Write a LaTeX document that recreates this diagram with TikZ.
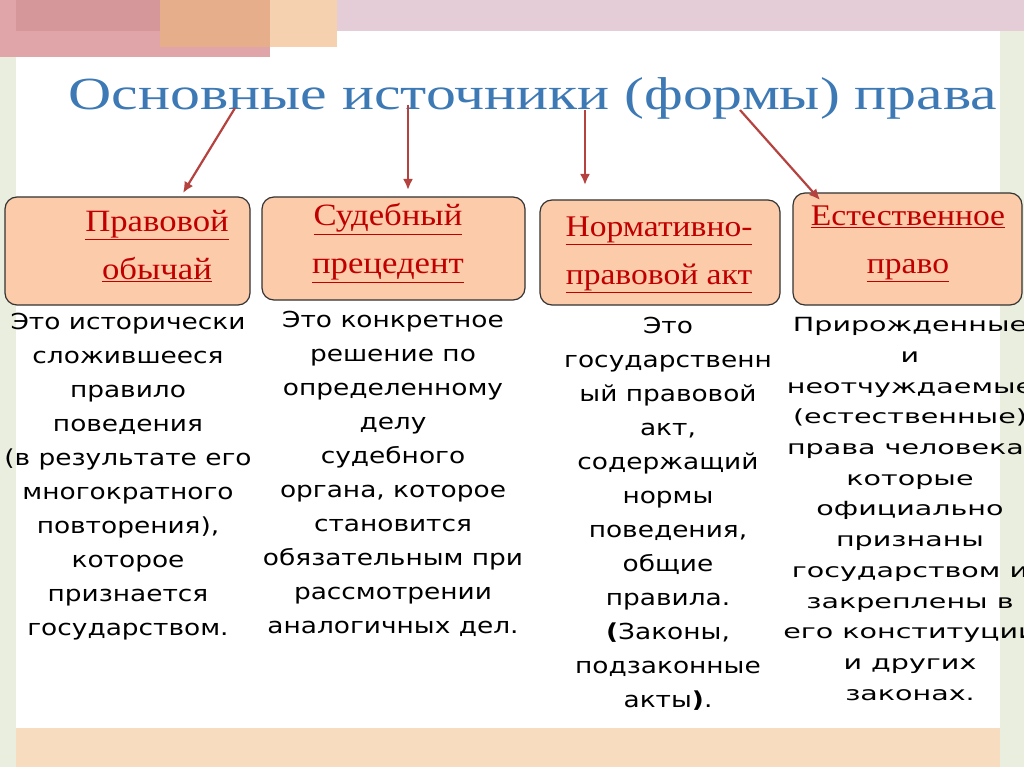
\documentclass[tikz,border=0pt]{standalone}
\usepackage{fontspec}
\usetikzlibrary{arrows.meta}
\setmainfont{Liberation Serif}
\newfontfamily\bodyf{DejaVu Sans}
\begin{document}
\begin{tikzpicture}[x=1pt,y=-1pt,
 box/.style={draw=black!80,line width=1.2pt,rounded corners=12pt,fill=boxfill},
 head/.style={text=headred,font=\fontsize{31}{48}\selectfont,align=center,xscale=1.12,transform shape},
 body/.style={font=\bodyf\fontsize{22}{34}\selectfont,align=center,anchor=north,xscale=1.2,transform shape},
 arr/.style={draw=arrred,line width=2.2pt,-{Latex[length=11pt,width=10pt]}}]
\definecolor{boxfill}{HTML}{FBCBAA}
\definecolor{headred}{HTML}{C00000}
\definecolor{arrred}{HTML}{B5423F}
\definecolor{titleblue}{HTML}{3D79B5}
\useasboundingbox (0,0) rectangle (1024,767);
\fill[white] (0,0) rectangle (1024,767);
% decorations
\fill[fill={rgb,255:red,234;green,238;blue,222}] (0,0) rectangle (16,767);
\fill[fill={rgb,255:red,234;green,238;blue,222}] (1000,0) rectangle (1024,767);
\fill[fill={rgb,255:red,248;green,220;blue,192}] (16,728) rectangle (1000,767);
\fill[fill={rgb,255:red,228;green,205;blue,214}] (0,0) rectangle (1024,31);
\fill[fill={rgb,255:red,223;green,165;blue,168}] (0,0) rectangle (270,57);
\fill[fill={rgb,255:red,232;green,176;blue,138},opacity=0.9] (160,0) rectangle (270,47);
\fill[fill={rgb,255:red,245;green,209;blue,176}] (270,0) rectangle (337,47);
\fill[fill={rgb,255:red,207;green,142;blue,144},opacity=0.6] (16,0) rectangle (160,31);
% title
\node[text=titleblue,font=\fontsize{46}{50}\selectfont,xscale=1.3,transform shape] (title) at (533,98) {Основные источники (формы) права};
% boxes
\draw[box] (5,197) rectangle (250,305);
\draw[box] (262,197) rectangle (525,300);
\draw[box] (540,200) rectangle (780,305);
\draw[box] (793,193) rectangle (1022,305);
\node[head] (h1) at (157,246) {\underline{Правовой}\\\underline{обычай}};
\node[head] (h2) at (388,243) {\underline{Судебный}\\\underline{прецедент}};
\node[head,font=\fontsize{30}{48}\selectfont] (h3) at (659,255) {\underline{Нормативно-}\\\underline{правовой акт}};
\node[head,font=\fontsize{30}{48}\selectfont] (h4) at (908,244) {\underline{Естественное}\\\underline{право}};
% arrows
\coordinate (s1) at (235,108); \coordinate (s2) at (408,105);
\coordinate (s3) at (585,110); \coordinate (s4) at (740,110);
\coordinate (e1) at (183,193); \coordinate (e2) at (408,190);
\coordinate (e3) at (585,185); \coordinate (e4) at (820,200);
\draw[arr] (s1) -- (e1);
\draw[arr] (s2) -- (e2);
\draw[arr] (s3) -- (e3);
\draw[arr] (s4) -- (e4);
% body
\node[body] (b1) at (128,310) {Это исторически\\сложившееся\\правило\\поведения\\(в результате его\\многократного\\повторения),\\которое\\признается\\государством.};
\node[body] (b2) at (393,308) {Это конкретное\\решение по\\определенному\\делу\\судебного\\органа, которое\\становится\\обязательным при\\рассмотрении\\аналогичных дел.};
\node[body] (b3) at (668,314) {Это\\государственн\\ый правовой\\акт,\\содержащий\\нормы\\поведения,\\общие\\правила.\\\textbf{(}Законы,\\подзаконные\\акты\textbf{)}.};
\node[body,font=\bodyf\fontsize{19.5}{30.7}\selectfont,xscale=1.22] (b4) at (910,314) {Прирожденные\\и\\неотчуждаемые\\(естественные)\\права человека,\\которые\\официально\\признаны\\государством и\\закреплены в\\его конституции\\и других\\законах.};
\end{tikzpicture}
\end{document}
